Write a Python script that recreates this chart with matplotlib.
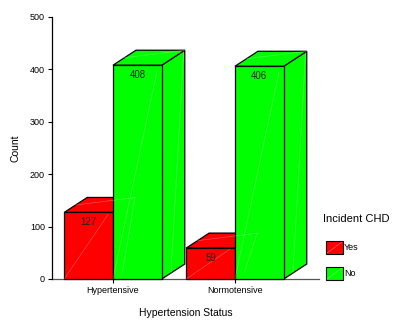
import matplotlib.pyplot as plt
from matplotlib.patches import Polygon, Rectangle

plt.rcParams['font.family'] = ['Liberation Sans', 'DejaVu Sans']

groups = ['Hypertensive', 'Normotensive']
series = ['Yes', 'No']
counts = {'Yes': [127, 59], 'No': [408, 406]}
colors = {'Yes': '#ff0000', 'No': '#00ff00'}

W, H = 395, 321
fig = plt.figure(figsize=(W / 100, H / 100), dpi=100)

# axes placed in pixel terms: y axis at x=52, baseline at y=279, 500 at y=17
left, right, bottom, top = 52, 319, 279, 17
ax = fig.add_axes([left / W, (H - bottom) / H, (right - left) / W, (bottom - top) / H])
ax.set_xlim(-0.5, 1.689)
ax.set_ylim(0, 500)

bar_w = 0.4
dx = 0.1885          # depth offset along x (data units)
dy = 28.6            # depth offset along y (counts)


def box(x0, h, color):
    x1 = x0 + bar_w
    ec = dict(edgecolor='black', linewidth=0.9, facecolor=color, clip_on=False)
    side = Polygon([(x1, 0), (x1 + dx, dy), (x1 + dx, h + dy), (x1, h)], **ec)
    topf = Polygon([(x0, h), (x0 + dx, h + dy), (x1 + dx, h + dy), (x1, h)], **ec)
    front = Rectangle((x0, 0), bar_w, h, **ec)
    for p in (side, topf, front):
        ax.add_patch(p)
    # faint shading seams
    seam = dict(color='white', alpha=0.3, linewidth=0.5, clip_on=False)
    ax.plot([x0, x1 - bar_w * 0.1], [0, h * 0.97], **seam)
    ax.plot([x0 + dx * 0.5, x1 + dx], [h + dy * 0.5, h + dy], **seam)
    ax.plot([x1 + dx * 0.4, x1 + dx * 0.95], [dy * 0.4, h + dy * 0.95], **seam)


for i, g in enumerate(groups):
    for j, s in enumerate(series):
        x0 = i - bar_w + j * bar_w
        h = counts[s][i]
        box(x0, h, colors[s])
        ax.text(x0 + bar_w / 2, h - 19, str(h), ha='center', va='center',
                fontsize=7, color='#222222')

for sp in ('top', 'right', 'bottom'):
    ax.spines[sp].set_visible(False)
ax.spines['left'].set_linewidth(0.9)
ax.axhline(0, color='#555555', linewidth=0.9, clip_on=False, zorder=0)

ax.set_yticks([0, 100, 200, 300, 400, 500])
ax.tick_params(axis='y', length=3, width=0.8, labelsize=6.5, pad=2)
ax.set_xticks(range(len(groups)))
ax.set_xticklabels(groups)
ax.tick_params(axis='x', length=3, width=0.8, labelsize=6.5, pad=2)
ax.set_ylabel('Count', fontsize=7.5, labelpad=7)
ax.set_xlabel('Hypertension Status', fontsize=7.5)
ax.xaxis.set_label_coords(0.5, -0.112)

# legend drawn in figure pixels
def px(x, y):
    return x / W, (H - y) / H

fig.text(*px(323, 219), 'Incident CHD', fontsize=8, ha='left', va='center')
for k, (s, y) in enumerate(zip(series, [241, 267])):
    fx, fy = px(326, y + 13)
    fig.patches.append(Rectangle((fx, fy), 17 / W, 13 / H, transform=fig.transFigure,
                                 facecolor=colors[s], edgecolor='black', linewidth=0.8))
    fig.lines.append(plt.Line2D([px(327, 0)[0], px(342, 0)[0]],
                                [px(0, y + 12)[1], px(0, y + 1)[1]],
                                transform=fig.transFigure, color='white', alpha=0.4, linewidth=0.5))
    fig.text(*px(344, y + 7), s, fontsize=6.5, ha='left', va='center')

fig.savefig('out.png', dpi=100)
